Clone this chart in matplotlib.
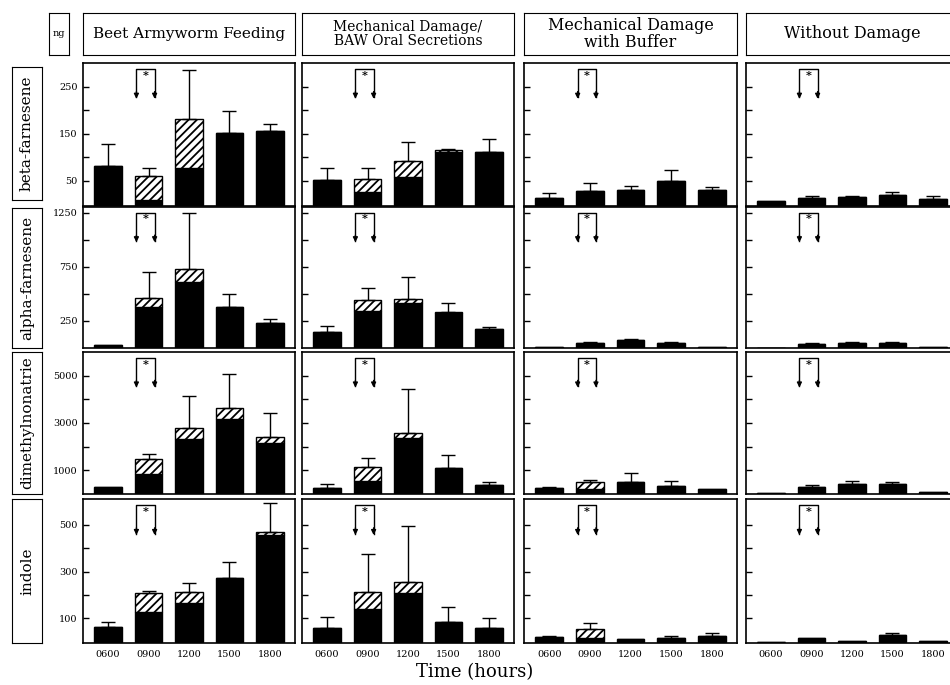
import matplotlib
matplotlib.use("Agg")
import matplotlib.pyplot as plt
import numpy as np

plt.rcParams['font.family'] = ['DejaVu Serif']
plt.rcParams['hatch.linewidth'] = 1.3

# ====== DATA (ng) ======
times = ["0600", "0900", "1200", "1500", "1800"]
treatments = ["Beet Armyworm Feeding", "Mechanical Damage/\nBAW Oral Secretions",
              "Mechanical Damage\nwith Buffer", "Without Damage"]
compounds = ["beta-farnesene", "alpha-farnesene", "dimethylnonatrie", "indole"]

# one row per treatment, one value per time
beta_black = [[81, 10, 78, 151, 155], [52, 27, 59, 112, 112], [15, 28, 31, 49, 30], [7, 13, 16, 20, 11]]
beta_hatch = [[0, 50, 104, 0, 0], [0, 28, 34, 3, 0], [0, 0, 0, 0, 0], [0, 0, 0, 0, 0]]
beta_err = [[47, 18, 104, 47, 16], [26, 23, 40, 2, 27], [9, 18, 9, 25, 7], [0, 6, 2, 7, 8]]

alpha_black = [[25, 376, 614, 383, 235], [152, 346, 420, 321, 173], [12, 50, 70, 45, 8], [3, 37, 46, 42, 8]]
alpha_hatch = [[0, 84, 113, 0, 0], [0, 98, 33, 16, 0], [0, 0, 0, 0, 0], [0, 0, 0, 0, 0]]
alpha_err = [[0, 240, 523, 117, 33], [55, 114, 200, 76, 25], [0, 8, 10, 15, 0], [0, 5, 9, 15, 0]]

dmnt_black = [[280, 843, 2317, 3188, 2136], [266, 548, 2346, 1080, 380], [240, 220, 520, 340, 200], [40, 290, 420, 420, 90]]
dmnt_hatch = [[0, 632, 476, 447, 252], [0, 577, 236, 28, 0], [0, 300, 0, 0, 0], [0, 0, 0, 0, 0]]
dmnt_err = [[0, 210, 1334, 1448, 1036], [144, 404, 1840, 535, 126], [70, 90, 354, 210, 0], [0, 95, 140, 85, 0]]

indole_black = [[64, 126, 167, 271, 457], [57, 139, 207, 86, 57], [21, 17, 11, 15, 24], [0, 17, 5, 28, 5]]
indole_hatch = [[0, 81, 47, 0, 14], [0, 72, 50, 0, 0], [0, 37, 0, 0, 0], [0, 0, 0, 0, 0]]
indole_err = [[22, 11, 36, 72, 122], [50, 165, 236, 64, 46], [3, 27, 0, 9, 12], [0, 0, 0, 10, 0]]

blacks = [beta_black, alpha_black, dmnt_black, indole_black]
hatches = [beta_hatch, alpha_hatch, dmnt_hatch, indole_hatch]
errs = [beta_err, alpha_err, dmnt_err, indole_err]

ylims = [(-3, 300), (0, 1305), (0, 6000), (-5, 610)]
yticks = [[50, 100, 150, 200, 250], [250, 500, 750, 1000, 1250],
          [1000, 2000, 3000, 4000, 5000], [100, 200, 300, 400, 500]]

# ====== LAYOUT (pixels) ======
W, H = 950, 685
fig = plt.figure(figsize=(W / 100, H / 100), dpi=100)


def box(l, t, r, b):
    return fig.add_axes([l / W, 1 - b / H, (r - l) / W, (b - t) / H])


col_x = [(83, 295), (302, 514), (524, 737), (746, 958)]
row_y = [(63, 206), (207, 348), (352, 494), (499, 643)]
label_y = [(67, 200), (208, 348), (352, 494), (499, 643)]
head_size = [11, 10, 11.5, 11.5]

# header boxes
a = box(49, 13, 69, 55)
a.set_xticks([]); a.set_yticks([])
a.text(0.5, 0.5, "ng", ha='center', va='center', fontsize=7, transform=a.transAxes)
for j, (l, r) in enumerate(col_x):
    a = box(l, 13, r, 55)
    a.set_xticks([]); a.set_yticks([])
    a.text(0.5, 0.5, treatments[j], ha='center', va='center', fontsize=head_size[j],
           linespacing=0.95, transform=a.transAxes)

# row label boxes
for i, (t, b) in enumerate(label_y):
    a = box(12, t, 42, b)
    a.set_xticks([]); a.set_yticks([])
    a.text(0.5, 0.5, compounds[i], ha='center', va='center', rotation=90,
           fontsize=11, transform=a.transAxes)

x = np.arange(len(times))
for i in range(4):
    for j in range(4):
        ax = box(col_x[j][0], row_y[i][0], col_x[j][1], row_y[i][1])
        blk = np.array(blacks[i][j])
        hat = np.array(hatches[i][j])
        err = np.array(errs[i][j])
        ax.bar(x, blk, width=0.68, color='black', edgecolor='black', linewidth=1)
        ax.bar(x, hat, width=0.68, bottom=blk, color='white', edgecolor='black',
               hatch='////', linewidth=1)
        m = err > 0
        ax.errorbar(x[m], (blk + hat)[m], yerr=[np.zeros(m.sum()), err[m]], fmt='none',
                    ecolor='black', elinewidth=1, capsize=5, capthick=1)
        ax.set_xlim(-0.62, 4.62)
        ax.set_ylim(*ylims[i])
        ax.set_yticks(yticks[i])
        if j == 0:
            ax.set_yticklabels([str(v) if k % 2 == 0 else "" for k, v in enumerate(yticks[i])])
        else:
            ax.set_yticklabels([])
        ax.tick_params(axis='y', direction='in', length=4, width=1, labelsize=7, pad=4)
        ax.set_xticks(x)
        if i == 3:
            ax.set_xticklabels(times)
            ax.tick_params(axis='x', length=0, labelsize=7, pad=5)
        else:
            ax.set_xticklabels([])
            ax.tick_params(axis='x', length=0)
        for s in ax.spines.values():
            s.set_linewidth(1.2)

        # significance bracket over 0900
        tr = ax.get_xaxis_transform()
        ax.plot([0.7, 0.7, 1.15, 1.15], [0.76, 0.955, 0.955, 0.76], color='black',
                lw=1, transform=tr)
        for xx in (0.7, 1.15):
            ax.annotate("", xy=(xx, 0.75), xytext=(xx, 0.80), xycoords=tr, textcoords=tr,
                        arrowprops=dict(arrowstyle='-|>', color='black', lw=1,
                                        mutation_scale=7, shrinkA=0, shrinkB=0))
        ax.text(0.925, 0.915, "*", ha='center', va='center', fontsize=8,
                fontweight='bold', transform=tr)

fig.text(475 / W, 1 - 672 / H, "Time (hours)", ha='center', va='center', fontsize=13)

fig.savefig("out.png", dpi=100)
